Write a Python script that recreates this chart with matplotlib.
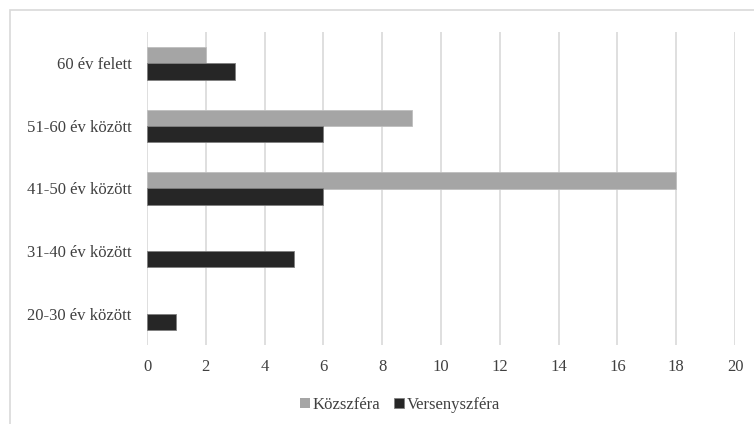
import matplotlib
matplotlib.use("Agg")
import matplotlib.pyplot as plt
from matplotlib.patches import Rectangle
import numpy as np

categories = ["20-30 év között", "31-40 év között", "41-50 év között", "51-60 év között", "60 év felett"]
kozszfera = [0, 0, 18, 9, 2]
versenyszfera = [1, 5, 6, 6, 3]
xticks = list(range(0, 21, 2))

plt.rcParams['font.family'] = ['Liberation Serif', 'DejaVu Serif']

fig = plt.figure(figsize=(7.54, 4.24), dpi=100)
ax = fig.add_axes([147 / 754, 1 - 345 / 424, (735 - 147) / 754, (345 - 32) / 424])

y = np.arange(len(categories))
h = 0.26
# no outline on empty bars
lw_k = [0.6 if v > 0 else 0 for v in kozszfera]
lw_v = [0.6 if v > 0 else 0 for v in versenyszfera]
ax.barh(y + h / 2, kozszfera, height=h, color="#a5a5a5", edgecolor="#bfbfbf", linewidth=lw_k, label="Közszféra", zorder=3)
ax.barh(y - h / 2, versenyszfera, height=h, color="#262626", edgecolor="#7f7f7f", linewidth=lw_v, label="Versenyszféra", zorder=3)

ax.set_xlim(0, 20)
ax.set_ylim(-0.5, 4.5)
ax.set_xticks(xticks)
ax.set_yticks(y)
ax.set_yticklabels(categories)
ax.tick_params(axis="both", length=0, labelsize=12, labelcolor="#404040")
ax.tick_params(axis="y", pad=11)
ax.tick_params(axis="x", pad=10)
ax.grid(axis="x", color="#d9d9d9", linewidth=1.2, zorder=0)
for s in ax.spines.values():
    s.set_visible(False)

leg = fig.legend(loc="center", bbox_to_anchor=(400 / 754, 1 - 405 / 424), ncol=2, frameon=False,
                 fontsize=12, handlelength=0.6, handleheight=0.6, handletextpad=0.2, columnspacing=0.8)
for t in leg.get_texts():
    t.set_color("#404040")

fig.add_artist(Rectangle((9.5 / 754, -0.1), 1.0, 1 - 10.5 / 424 + 0.1, transform=fig.transFigure,
                         fill=False, edgecolor="#d9d9d9", linewidth=1.2))

fig.savefig("out.png", dpi=100)
